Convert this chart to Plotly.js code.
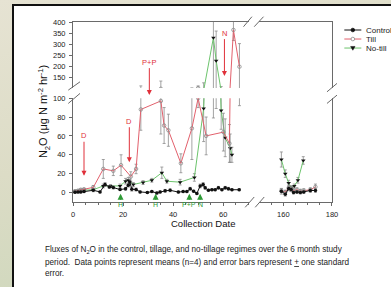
<!DOCTYPE html>
<html><head><meta charset="utf-8">
<script src="https://cdn.plot.ly/plotly-3.0.1.min.js"></script>
<style>
html,body{margin:0;padding:0;width:391px;height:287px;overflow:hidden;scrollbar-width:none;
background:linear-gradient(165deg,#e6e3d3 0%,#dcdcc6 45%,#c9d6b8 100%);}
::-webkit-scrollbar{width:0;height:0;display:none;}
#box{position:absolute;left:12px;top:4px;width:379px;height:283px;background:#fff;border-left:2px solid #111;border-top:2px solid #111;box-sizing:border-box;}
#chart{position:absolute;left:0;top:0;width:391px;height:287px;overflow:hidden;}
</style></head><body><div id="box"></div><div id="chart"></div>
<script>
// ---------- data ----------
const seriesNames = ["Control", "Till", "No-till"];

const controlX1 = [0.8,2,3.1,4.4,8.1,10.8,12.8,14.5,16.1,18.8,21,22.1,22.7,23.5,25.2,26.8,29.7,31.5,33.5,34.8,36.8,38.8,42.1,44,45.5,46.8,48.2,49.5,50.8,52,52.8,54.1,55.5,56.8,58.1,59.5,60.8,62.1,63.5,66.4];
const controlY1 = [0.3,0.5,0.7,1,2.4,0.7,8.5,6,5.3,3.2,4,7.8,11.3,3.5,3.2,0.7,0,1,-0.5,0.7,1.8,2.4,0.5,1,1,4,1.5,-1,7,8.5,5,2.5,3,3,5,3,5,4,3,3];
const controlE1 = [1,1,1,1,1.5,1,2,1.5,1.5,1,1.5,2,3,2,1.5,1,1,1,1,1,1.5,1.5,1,1,1,1.5,1,1,2,2,1.5,1,1,1,1.5,1,1.5,1.5,1,1];
const controlX2 = [159.2,160.8,162.2,163.2,164.2,165.6,167,168.4,171.1,173.2];
const controlY2 = [1.4,-1.8,4.2,3.2,0,0.7,0,0.7,2.2,2.2];
const controlE2 = [3,2,2,2,1.5,1.5,1.5,1.5,2,2];

const tillX1 = [0.8,2,3.1,4.4,8.1,12.1,16.1,19.2,23.1,25.2,27.1,35.1,36.4,38.1,43.1,47.5,50,53.2,60.1,62.5,64.1,66.5];
const tillY1 = [1.5,2,3,3.5,5.5,25,23,29,17,25,88,97,71,66,31,68,100,60,64,52,364,197];
const tillE1 = [1,1,1,1,2,10,5,11,5,5,22,35,19,17,10,33,10,20,20,20,48,105];
const tillX2 = [159.2,160.8,162.2,163.2,164.2,165.6,167,168.4,171.1,173.2];
const tillY2 = [2,0.5,5,4,2,3,1.5,2,3,6];
const tillE2 = [2,2,3,3,2,2,2,2,2,3];

const noTillX1 = [0.8,2,3.1,4.4,8.1,12.1,15,18.8,21,22.1,24.1,28,31.5,35.5,37.5,42.8,48.5,52.2,56.1,57.2,59.2,60.8,62.8,63.5];
const noTillY1 = [1,1.5,2,2.5,3,7,7,7,12,13,8.5,10.6,13,21,12,11,16,89,329,224,87,58,47,40];
const noTillE1 = [1,1,1,1,1,2,1.5,2,3,3,2,2,2,6,2,3,4,35,250,135,20,20,15,8];
const noTillX2 = [159.2,160.8,162.2,163.2,164.5,166,168.2];
const noTillY2 = [35,20,10,5,7,13,34];
const noTillE2 = [8,4,3,2,2,3,4];

const redEvents = ["D","D","P+P","N"];
const redEventX = [4.4,22.5,30.5,60.5];
const greenEvents = ["H","H","P+P","N"];
const greenEventX = [19,33,46.5,50.8];

// ---------- layout geometry ----------
const L = 73, T = 22, W = 258.7, H = 179.7;
const px = p => (p - L) / W;
const py = p => (T + H - p) / H;
const FONT = "Liberation Sans, Arial, sans-serif";
const axisCol = "#6a6a6a";

const styles = {
  "Control": {line:{color:"#111", width:1}, marker:{symbol:"circle", size:3.5, color:"#111"}},
  "Till":    {line:{color:"#e2606c", width:1}, marker:{symbol:"circle-open", size:3.5, color:"#8a8a8a", line:{width:0.8}}},
  "No-till": {line:{color:"#6cc46c", width:1}, marker:{symbol:"triangle-down", size:4, color:"#111"}}
};

function tr(name, x, y, e, xa, ya) {
  const s = styles[name];
  return {type:"scatter", mode:"lines+markers", name, x, y, xaxis:xa, yaxis:ya,
    showlegend:false, line:s.line, marker:s.marker,
    error_y:{type:"data", array:e, visible:true, color:"#8c8c8c", thickness:0.8, width:1.5}};
}
const segs = [
  ["Control", controlX1, controlY1, controlE1, controlX2, controlY2, controlE2],
  ["Till", tillX1, tillY1, tillE1, tillX2, tillY2, tillE2],
  ["No-till", noTillX1, noTillY1, noTillE1, noTillX2, noTillY2, noTillE2]
];
const data = [];
[2,1,0].forEach(i => {
  const [n, x1, y1, e1, x2, y2, e2] = segs[i];
  data.push(tr(n, x1, y1, e1, "x", "y"));
  data.push(tr(n, x1, y1, e1, "x3", "y2"));
  data.push(tr(n, x2, y2, e2, "x2", "y3"));
  data.push(tr(n, x2, y2, e2, "x4", "y4"));
});

const dA = [0, px(249)], dB = [px(259), 1];
const dLow = [0, py(98)], dUp = [py(88), 1];
const tickFont = {family:FONT, size:7.5, color:"#222"};
const baseAx = {showgrid:false, zeroline:false, showline:true, linecolor:axisCol, linewidth:1, tickfont:tickFont, tickcolor:axisCol};

const layout = {
  width:391, height:287,
  margin:{l:L, r:391-L-W, t:T, b:287-T-H},
  paper_bgcolor:"rgba(0,0,0,0)", plot_bgcolor:"rgba(0,0,0,0)",
  showlegend:false,
  font:{family:FONT},
  xaxis: Object.assign({}, baseAx, {domain:dA, range:[0,70.4], anchor:"y", ticks:"outside", ticklen:3,
    tickvals:[0,20,40,60], minor:{dtick:5, ticks:"outside", ticklen:2, tickcolor:axisCol}, ticklabelstandoff:2}),
  xaxis2: Object.assign({}, baseAx, {domain:dB, range:[150.1,180], anchor:"y3", ticks:"outside", ticklen:3,
    tickvals:[160,180], minor:{dtick:5, ticks:"outside", ticklen:2, tickcolor:axisCol}, ticklabelstandoff:2}),
  xaxis3: Object.assign({}, baseAx, {domain:dA, matches:"x", anchor:"y2", side:"top", ticks:"", showticklabels:false}),
  xaxis4: Object.assign({}, baseAx, {domain:dB, matches:"x2", anchor:"y4", side:"top", ticks:"", showticklabels:false}),
  yaxis: Object.assign({}, baseAx, {domain:dLow, range:[-10,100], anchor:"x", ticks:"outside", ticklen:3,
    tickvals:[0,20,40,60,80,100], ticklabelstandoff:2}),
  yaxis2: Object.assign({}, baseAx, {domain:dUp, range:[100,400], anchor:"x3", ticks:"outside", ticklen:3,
    tickvals:[150,200,250,300,350,400], ticklabelstandoff:2}),
  yaxis3: Object.assign({}, baseAx, {domain:dLow, matches:"y", anchor:"x2", side:"right", ticks:"", showticklabels:false}),
  yaxis4: Object.assign({}, baseAx, {domain:dUp, matches:"y2", anchor:"x4", side:"right", ticks:"", showticklabels:false}),
  shapes:[], annotations:[]
};

// axis break marks
const brk = [[68.3,90,80,81.7],[68.3,103.3,80,93.3],[326.7,91.7,336.7,83.3],[326.7,103.3,336.7,95],
  [243.3,26.7,251.7,16.7],[254,26.7,263.3,16.7],[245,207,254,196.7],[255,207,264,196.7]];
brk.forEach(b => layout.shapes.push({type:"line", xref:"paper", yref:"paper",
  x0:px(b[0]), y0:py(b[1]), x1:px(b[2]), y1:py(b[3]), line:{color:axisCol, width:1}}));

// manual legend
const legRows = [30, 39, 48];
seriesNames.forEach((n, i) => {
  const s = styles[n], yy = py(legRows[i]);
  layout.shapes.push({type:"line", xref:"paper", yref:"paper", x0:px(344), x1:px(361), y0:yy, y1:yy, line:{color:s.line.color, width:1}});
  const cx = px(352.5), rx = 1.8/W, ry = 1.8/H;
  if (n === "No-till") {
    layout.shapes.push({type:"path", xref:"paper", yref:"paper",
      path:`M ${cx-2.2/W} ${yy+1.6/H} L ${cx+2.2/W} ${yy+1.6/H} L ${cx} ${yy-2.2/H} Z`, fillcolor:"#111", line:{color:"#111", width:0.5}});
  } else {
    layout.shapes.push({type:"circle", xref:"paper", yref:"paper", x0:cx-rx, x1:cx+rx, y0:yy-ry, y1:yy+ry,
      fillcolor: n === "Control" ? "#111" : "#fff", line:{color: n === "Control" ? "#111" : "#8a8a8a", width:0.8}});
  }
  layout.annotations.push({xref:"paper", yref:"paper", x:px(364), y:yy, xanchor:"left", yanchor:"middle",
    showarrow:false, text:n, font:{family:FONT, size:8, color:"#222"}});
});

// red event arrows
const redFont = {family:FONT, size:7.5, color:"#e0303a"};
const redTip = [py(175.5), py(162), py(95), py(76)];
const redAy = [-40, -41, -33, -43];
redEvents.forEach((t, i) => layout.annotations.push({xref:"x", yref:"paper", x:redEventX[i], y:redTip[i],
  text:t, showarrow:true, ax:0, ay:redAy[i], arrowhead:2, arrowsize:1, arrowwidth:1, arrowcolor:"#e0303a", font:redFont}));

// green event arrows
const greenFont = {family:FONT, size:7, color:"#2e9a36"};
greenEvents.forEach((t, i) => layout.annotations.push({xref:"x", yref:"paper", x:greenEventX[i], y:py(193.5),
  text:t, showarrow:true, ax:0, ay:11, arrowhead:2, arrowsize:1, arrowwidth:1.2, arrowcolor:"#2e9a36", font:greenFont}));

// axis titles
layout.annotations.push({xref:"paper", yref:"paper", x:px(44), y:py(111), xanchor:"center", yanchor:"middle",
  textangle:-90, showarrow:false,
  text:"N<sub>2</sub>O (μg N m<sup>-2</sup> hr<sup>-1</sup>)", font:{family:FONT, size:11, color:"#111"}});
layout.annotations.push({xref:"paper", yref:"paper", x:px(203), y:py(223), xanchor:"center", yanchor:"middle",
  showarrow:false, text:"Collection Date", font:{family:FONT, size:9.5, color:"#111"}});

// caption
const caption = [
  "Fluxes of N<sub>2</sub>O in the control, tillage, and no-tillage regimes over the 6 month study",
  "period.  Data points represent means (n=4) and error bars represent <u>+</u> one standard",
  "error."
];
const capY = [250, 262, 273];
caption.forEach((t, i) => layout.annotations.push({xref:"paper", yref:"paper", x:px(43), y:py(capY[i]),
  xanchor:"left", yanchor:"middle", showarrow:false, text:t, font:{family:FONT, size:8.2, color:"#222"}}));

Plotly.newPlot("chart", data, layout, {staticPlot:true, displayModeBar:false});
</script></body></html>
